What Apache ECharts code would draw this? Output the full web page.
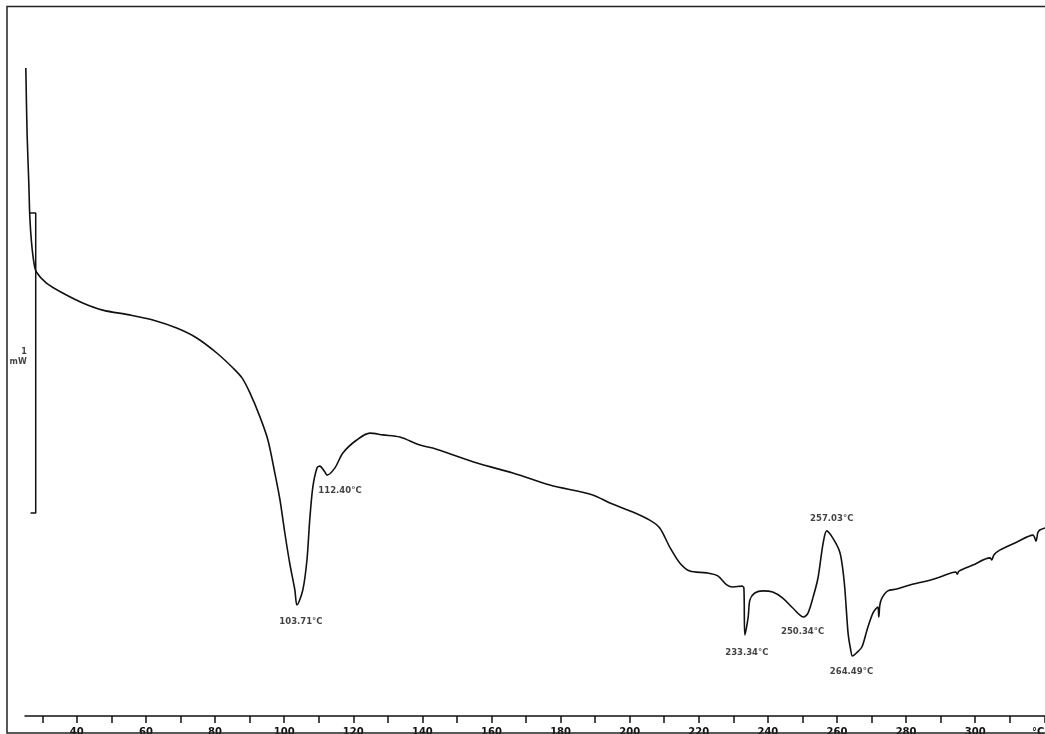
<!DOCTYPE html>
<html>
<head>
<meta charset="utf-8">
<script src="https://cdn.jsdelivr.net/npm/echarts@6/dist/echarts.min.js"></script>
<style>
  html, body { margin: 0; padding: 0; background: #fff; }
  #chart { width: 1045px; height: 734px; }
</style>
</head>
<body>
<div id="chart"></div>
<script>
// DSC trace: temperature (°C) vs heat flow (mW, arbitrary offset)
const temps = [
  25.24, 25.6, 26.1, 26.4, 26.9, 27.6, 28.3, 31.2, 35.9, 41.7, 47.5, 55.3, 62.0, 68.9, 74.7,
  80.5, 85.2, 87.8, 90.1, 93.0, 95.3, 97.3, 98.8, 100.2, 101.6, 103.1, 103.71, 105.4, 106.6,
  107.4, 108.3, 109.5, 110.3, 111.8, 112.4, 114.7, 117.0, 121.0, 124.8, 128.6, 133.5, 139.3,
  143.0, 155.8, 166.2, 176.9, 189.3, 194.3, 200.9, 205.8, 208.7, 211.6, 214.5, 217.4, 222.3,
  225.5, 228.1, 229.9, 232.5, 233.05, 233.34, 234.3, 234.8, 236.2, 238.6, 241.4, 244.3, 247.2,
  250.34, 251.6, 253.1, 254.5, 256.0, 257.03, 258.8, 260.8, 261.7, 262.3, 263.2, 263.9, 264.49,
  265.6, 267.2, 268.7, 270.4, 271.8, 272.1, 272.4, 273.0, 274.7, 277.3, 281.1, 286.0, 289.8,
  294.4, 294.8, 295.3, 299.3, 304.3, 304.8, 305.4, 307.1, 312.1, 316.7, 317.6, 318.1, 318.7, 320.2
];
const heatFlow = [
  2.160, 1.943, 1.777, 1.663, 1.577, 1.510, 1.480, 1.443, 1.410, 1.377, 1.353, 1.337, 1.320, 1.293, 1.260,
  1.210, 1.160, 1.127, 1.077, 0.997, 0.920, 0.810, 0.720, 0.610, 0.510, 0.420, 0.370, 0.420, 0.520,
  0.653, 0.763, 0.827, 0.833, 0.813, 0.803, 0.827, 0.877, 0.920, 0.943, 0.937, 0.930, 0.903,
  0.893, 0.843, 0.810, 0.770, 0.737, 0.710, 0.680, 0.653, 0.627, 0.563, 0.510, 0.483, 0.477,
  0.467, 0.437, 0.430, 0.433, 0.427, 0.270, 0.330, 0.387, 0.410, 0.417, 0.413, 0.393, 0.360,
  0.330, 0.343, 0.397, 0.460, 0.577, 0.617, 0.593, 0.547, 0.487, 0.420, 0.277, 0.225, 0.200,
  0.210, 0.230, 0.287, 0.343, 0.363, 0.330, 0.370, 0.393, 0.417, 0.423, 0.437, 0.450, 0.463,
  0.480, 0.473, 0.483, 0.503, 0.527, 0.520, 0.537, 0.553, 0.580, 0.603, 0.583, 0.610, 0.620, 0.627
];

// annotated peaks
const peakTemps = [103.71, 112.40, 233.34, 250.34, 257.03, 264.49];
const peakVals = [0.370, 0.803, 0.270, 0.330, 0.617, 0.200];
const peakLabelOffsets = [[4, 17], [13, 16], [2, 18], [-1, 15], [5, -12], [-1, 16]];

// 1 mW scale bar
const scaleBarTemps = [26.4, 28.1, 28.1, 26.6];
const scaleBarVals = [1.677, 1.677, 0.677, 0.677];

const tickValues = [30, 40, 50, 60, 70, 80, 90, 100, 110, 120, 130, 140, 150, 160, 170, 180, 190,
  200, 210, 220, 230, 240, 250, 260, 270, 280, 290, 300, 310, 320];
const labelValues = [40, 60, 80, 100, 120, 140, 160, 180, 200, 220, 240, 260, 280, 300, 320];

const chart = echarts.init(document.getElementById('chart'));

chart.setOption({
  animation: false,
  backgroundColor: '#fff',
  grid: { left: 25, right: 0, top: 11, bottom: 18, containLabel: false, outerBoundsMode: 'none' },
  xAxis: {
    type: 'value',
    min: 25,
    max: 320.2,
    splitLine: { show: false },
    axisLine: { lineStyle: { color: '#111', width: 1.5 } },
    axisTick: { customValues: tickValues, length: 7, lineStyle: { color: '#111', width: 1.5 } },
    axisLabel: {
      customValues: labelValues,
      margin: 11,
      color: '#111',
      fontSize: 10,
      fontWeight: 'bold',
      fontFamily: 'DejaVu Sans',
      alignMaxLabel: 'right',
      formatter: (v) => (v === 320 ? '°C' : String(v))
    }
  },
  yAxis: {
    type: 'value',
    min: 0,
    max: 2.35,
    show: false
  },
  series: [
    {
      name: 'DSC',
      type: 'line',
      showSymbol: false,
      smooth: 0.3,
      lineStyle: { color: '#111', width: 1.6 },
      data: temps.map((t, i) => [t, heatFlow[i]])
    },
    {
      name: 'scale',
      type: 'line',
      showSymbol: false,
      lineStyle: { color: '#111', width: 1.5 },
      data: scaleBarTemps.map((t, i) => [t, scaleBarVals[i]])
    },
    {
      name: 'scaleLabel',
      type: 'scatter',
      symbolSize: 0,
      label: {
        show: true,
        position: 'left',
        distance: 9,
        align: 'right',
        color: '#111',
        fontSize: 8,
        fontWeight: 'bold',
        fontFamily: 'DejaVu Sans',
        lineHeight: 10,
        formatter: '1\nmW'
      },
      data: [[scaleBarTemps[1], (scaleBarVals[1] + scaleBarVals[2]) / 2 + 0.02]]
    },
    {
      name: 'peaks',
      type: 'scatter',
      symbolSize: 0,
      label: {
        show: true,
        position: 'inside',
        color: '#111',
        fontSize: 8.5,
        fontWeight: 'bold',
        fontFamily: 'DejaVu Sans',
        formatter: (p) => p.value[0].toFixed(2) + '°C'
      },
      data: peakTemps.map((t, i) => ({
        value: [t, peakVals[i]],
        label: { offset: peakLabelOffsets[i] }
      }))
    }
  ],
  graphic: [
    {
      type: 'rect',
      z: 100,
      shape: { x: 7, y: 6.5, width: 1060, height: 726.5 },
      style: { fill: 'none', stroke: '#222', lineWidth: 1.5 }
    }
  ]
});
</script>
</body>
</html>
